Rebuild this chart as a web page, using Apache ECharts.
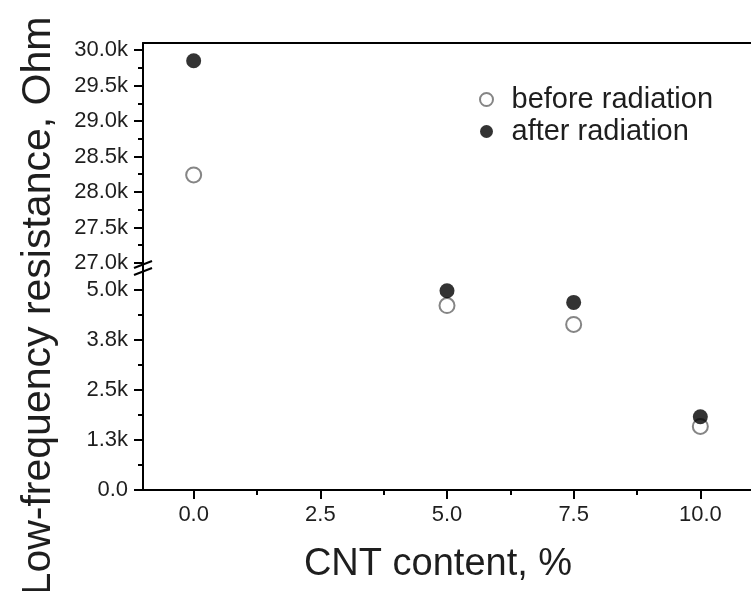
<!DOCTYPE html>
<html><head><meta charset="utf-8">
<script src="https://cdn.jsdelivr.net/npm/echarts@6/dist/echarts.min.js"></script>
<style>html,body{margin:0;padding:0;background:#fff}#c{width:751px;height:591px}</style>
</head><body><div id="c"></div>
<script>
const cntContent = [0, 5, 7.5, 10];
const beforeRadiation = [28240, 4610, 4140, 1590];
const afterRadiation = [29850, 4980, 4690, 1830];
const xTicks = [0, 2.5, 5, 7.5, 10];
const xMinorTicks = [1.25, 3.75, 6.25, 8.75];
const upperTicks = [27000, 27500, 28000, 28500, 29000, 29500, 30000];
const upperMinorTicks = [27250, 27750, 28250, 28750, 29250, 29750];
const lowerTicks = [0, 1250, 2500, 3750, 5000];
const lowerMinorTicks = [625, 1875, 3125, 4375];
const BREAK_AT = 20000;

const FONT = '"Liberation Sans", Arial, sans-serif';
const INK = '#1e1e1e';
const line = { show: true, onZero: false, lineStyle: { color: '#000', width: 2 } };
const noLine = { show: false, onZero: false };

function split(vals, upper) {
  const out = [];
  cntContent.forEach((x, i) => {
    if ((vals[i] > BREAK_AT) === upper) out.push([x, vals[i]]);
  });
  return out;
}
const kFmt = v => v === 0 ? '0.0' : (v / 1000).toFixed(1) + 'k';

const openStyle = { color: '#fff', borderColor: '#666', borderWidth: 2 };
const fillStyle = { color: '#000' };

const option = {
  animation: false,
  backgroundColor: '#fff',
  textStyle: { fontFamily: FONT },
  grid: [
    { left: 143, top: 43, width: 619, height: 227 },
    { left: 143, top: 270, width: 619, height: 220 }
  ],
  xAxis: [
    { type: 'value', gridIndex: 0, min: -1, max: 11, position: 'top',
      axisLine: line, axisTick: { show: false }, axisLabel: { show: false }, splitLine: { show: false } },
    { type: 'value', gridIndex: 1, min: -1, max: 11, position: 'bottom',
      axisLine: line,
      axisTick: { show: true, customValues: xTicks, length: 9, lineStyle: { color: '#000', width: 2 } },
      axisLabel: { customValues: xTicks, formatter: v => v.toFixed(1), margin: 14, fontSize: 22, color: INK, fontFamily: FONT },
      splitLine: { show: false },
      name: 'CNT content, %', nameLocation: 'middle', nameGap: 56,
      nameTextStyle: { fontSize: 38, color: INK, fontFamily: FONT, padding: [0, 18, 0, 0] } },
    { type: 'value', gridIndex: 1, min: -1, max: 11, position: 'bottom',
      axisLine: noLine,
      axisTick: { show: true, customValues: xMinorTicks, length: 5, lineStyle: { color: '#000', width: 2 } },
      axisLabel: { show: false }, splitLine: { show: false } }
  ],
  yAxis: [
    { type: 'value', gridIndex: 0, min: 26900, max: 30100, position: 'left',
      axisLine: line,
      axisTick: { show: true, customValues: upperTicks, length: 9, lineStyle: { color: '#000', width: 2 } },
      axisLabel: { customValues: upperTicks, formatter: kFmt, margin: 15, fontSize: 22, color: INK, fontFamily: FONT },
      splitLine: { show: false } },
    { type: 'value', gridIndex: 0, min: 26900, max: 30100, position: 'left',
      axisLine: noLine,
      axisTick: { show: true, customValues: upperMinorTicks, length: 5, lineStyle: { color: '#000', width: 2 } },
      axisLabel: { show: false }, splitLine: { show: false } },
    { type: 'value', gridIndex: 1, min: 0, max: 5500, position: 'left',
      axisLine: line,
      axisTick: { show: true, customValues: lowerTicks, length: 9, lineStyle: { color: '#000', width: 2 } },
      axisLabel: { customValues: lowerTicks, formatter: kFmt, margin: 15, fontSize: 22, color: INK, fontFamily: FONT },
      splitLine: { show: false } },
    { type: 'value', gridIndex: 1, min: 0, max: 5500, position: 'left',
      axisLine: noLine,
      axisTick: { show: true, customValues: lowerMinorTicks, length: 5, lineStyle: { color: '#000', width: 2 } },
      axisLabel: { show: false }, splitLine: { show: false } }
  ],
  legend: {
    orient: 'vertical', left: 474, top: 80,
    itemWidth: 40, itemHeight: 13, itemGap: 3, icon: 'circle',
    data: ['before radiation', 'after radiation'],
    textStyle: { fontSize: 29, color: INK, fontFamily: FONT }
  },
  series: [
    { type: 'scatter', name: 'before radiation', xAxisIndex: 0, yAxisIndex: 0, symbolSize: 15,
      itemStyle: openStyle, data: split(beforeRadiation, true) },
    { type: 'scatter', name: 'before radiation', xAxisIndex: 1, yAxisIndex: 2, symbolSize: 15,
      itemStyle: openStyle, data: split(beforeRadiation, false) },
    { type: 'scatter', name: 'after radiation', xAxisIndex: 0, yAxisIndex: 0, symbolSize: 15,
      itemStyle: fillStyle, data: split(afterRadiation, true) },
    { type: 'scatter', name: 'after radiation', xAxisIndex: 1, yAxisIndex: 2, symbolSize: 15,
      itemStyle: fillStyle, data: split(afterRadiation, false) }
  ],
  graphic: [
    { type: 'text', x: 39, y: 306, rotation: Math.PI / 2,
      style: { text: 'Low-frequency resistance, Ohm', font: '41px ' + FONT, fill: INK,
               textAlign: 'center', textVerticalAlign: 'middle' } },
    { type: 'line', shape: { x1: 134, y1: 268, x2: 152, y2: 261 }, style: { stroke: '#000', lineWidth: 2 } },
    { type: 'line', shape: { x1: 134, y1: 275, x2: 152, y2: 268 }, style: { stroke: '#000', lineWidth: 2 } }
  ]
};
echarts.init(document.getElementById('c'), null, { renderer: 'canvas' }).setOption(option);
</script>
</body></html>
